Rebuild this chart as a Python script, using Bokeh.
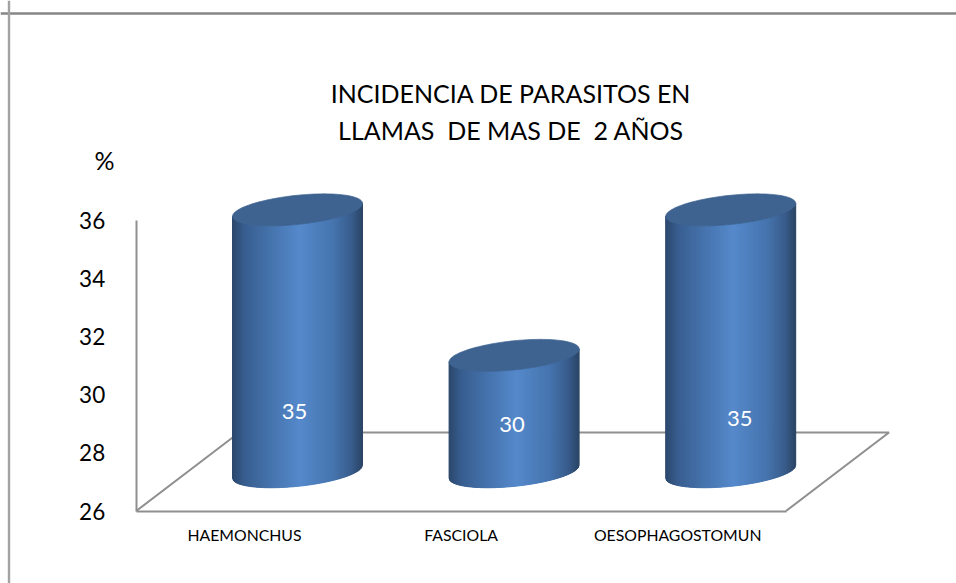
from bokeh.plotting import figure
from bokeh.models import Range1d, FixedTicker, Span
from bokeh.core.properties import value
from bokeh.embed import file_html
from bokeh.resources import INLINE
import math

categories = ["HAEMONCHUS", "FASCIOLA", "OESOPHAGOSTOMUN"]
incidence = [35, 30, 35]
y_ticks = [26, 28, 30, 32, 34, 36]
title_lines = ["INCIDENCIA DE PARASITOS EN", "LLAMAS \u00a0DE MAS DE \u00a02 AÑOS"]
y_unit_label = "%"

# reference-pixel scale of the axes
X0_PX, X_STEP_PX = 244.0, 216.6
Y0_PX, Y_STEP_PX = 510.5, 29.1
FONT = "Lato"


def dx(px):
    return (px - X0_PX) / X_STEP_PX


def dy(px):
    return 26 + (Y0_PX - px) / Y_STEP_PX


p = figure(width=956, height=583, output_backend="svg", toolbar_location=None,
           x_range=Range1d(dx(0), dx(956)), y_range=Range1d(dy(583), dy(0)),
           min_border=0, outline_line_color=None, background_fill_color="white",
           border_fill_color="white")
p.grid.visible = False

# page frame
p.add_layout(Span(location=dy(13), dimension="width", line_color="#868686", line_width=2.4))
p.add_layout(Span(location=dx(8.5), dimension="height", line_color="#a2a2a2", line_width=2.4))

# floor
DEPTH_X = 103 / X_STEP_PX
DEPTH_Y = 78.5 / Y_STEP_PX
n = len(categories)
p.line([-0.5, -0.5 + DEPTH_X, n - 0.5 + DEPTH_X, n - 0.5],
       [26, 26 + DEPTH_Y, 26 + DEPTH_Y, 26], line_color="#8f8f8f", line_width=2)

# axes
xa = p.xaxis[0]
xa.fixed_location = 26
xa.bounds = (-0.5, n - 0.5)
xa.ticker = FixedTicker(ticks=list(range(n)))
xa.major_label_overrides = {i: c for i, c in enumerate(categories)}
xa.major_label_text_font = FONT
xa.major_label_text_font_size = "15.8px"
xa.major_label_text_color = "black"
xa.major_label_standoff = 8
xa.major_tick_line_color = None
xa.minor_tick_line_color = None
xa.axis_line_color = "#8f8f8f"
xa.axis_line_width = 2

ya = p.yaxis[0]
ya.fixed_location = -0.5
ya.bounds = (26, 36)
ya.ticker = FixedTicker(ticks=y_ticks)
ya.major_label_text_font = FONT
ya.major_label_text_font_size = "22.5px"
ya.major_label_text_color = "black"
ya.major_label_standoff = 25
ya.major_tick_line_color = None
ya.minor_tick_line_color = None
ya.axis_line_color = "#8f8f8f"
ya.axis_line_width = 2

# cylinders
BAR_SHIFT = 53 / X_STEP_PX
HALF_W = 65 / X_STEP_PX
B = 14.6 / Y_STEP_PX
S = 6.5 / Y_STEP_PX
STOPS = [(0.0, (0x2b, 0x47, 0x6b)), (0.10, (0x38, 0x5e, 0x90)), (0.30, (0x45, 0x73, 0xad)),
         (0.52, (0x55, 0x89, 0xcb)), (0.78, (0x45, 0x74, 0xae)), (0.92, (0x38, 0x5c, 0x8b)),
         (1.0, (0x2b, 0x45, 0x66))]


def shade(t):
    for (t0, c0), (t1, c1) in zip(STOPS, STOPS[1:]):
        if t <= t1:
            f = (t - t0) / (t1 - t0)
            return "#%02x%02x%02x" % tuple(round(a + (b - a) * f) for a, b in zip(c0, c1))
    return "#%02x%02x%02x" % STOPS[-1][1]


STRIPS = 130
for i, v in enumerate(incidence):
    cx = i + BAR_SHIFT
    top = v + DEPTH_Y / 2
    base = 26 + DEPTH_Y / 2
    xs, ys, cols = [], [], []
    for k in range(STRIPS):
        u0 = -1 + 2 * k / STRIPS
        u1 = -1 + 2 * (k + 1) / STRIPS
        f0 = S * u0 - B * math.sqrt(max(0, 1 - u0 * u0))
        f1 = S * u1 - B * math.sqrt(max(0, 1 - u1 * u1))
        xs.append([cx + HALF_W * u0, cx + HALF_W * u1, cx + HALF_W * u1, cx + HALF_W * u0])
        ys.append([top + f0, top + f1, base + f1, base + f0])
        cols.append(shade((k + 0.5) / STRIPS))
    p.patches(xs, ys, fill_color=cols, line_color=cols, line_width=1.0)
    angles = [2 * math.pi * a / 120 for a in range(120)]
    p.patch([cx + HALF_W * math.cos(a) for a in angles],
            [top + S * math.cos(a) + B * math.sin(a) for a in angles],
            fill_color="#3e6390", line_color="#3e6390", line_width=0.7)

# data labels
p.text(x=[i + BAR_SHIFT for i in range(n)],
       y=[dy(411), dy(423.5), dy(417.5)],
       text=[str(v) for v in incidence],
       x_offset=[-3, -2, 9],
       text_color="white", text_font=value(FONT), text_font_size=value("22px"),
       text_align="center", text_baseline="middle")

# title and unit
p.text(x=[dx(510.5)] * 2, y=[dy(92), dy(129)], text=title_lines,
       text_color="black", text_font=value(FONT), text_font_size=value("25px"),
       text_align="center", text_baseline="middle")
p.text(x=[dx(104)], y=[dy(159)], text=[y_unit_label],
       text_color="black", text_font=value(FONT), text_font_size=value("25px"),
       text_align="center", text_baseline="middle")

open("out.html", "w").write(file_html(p, INLINE))
